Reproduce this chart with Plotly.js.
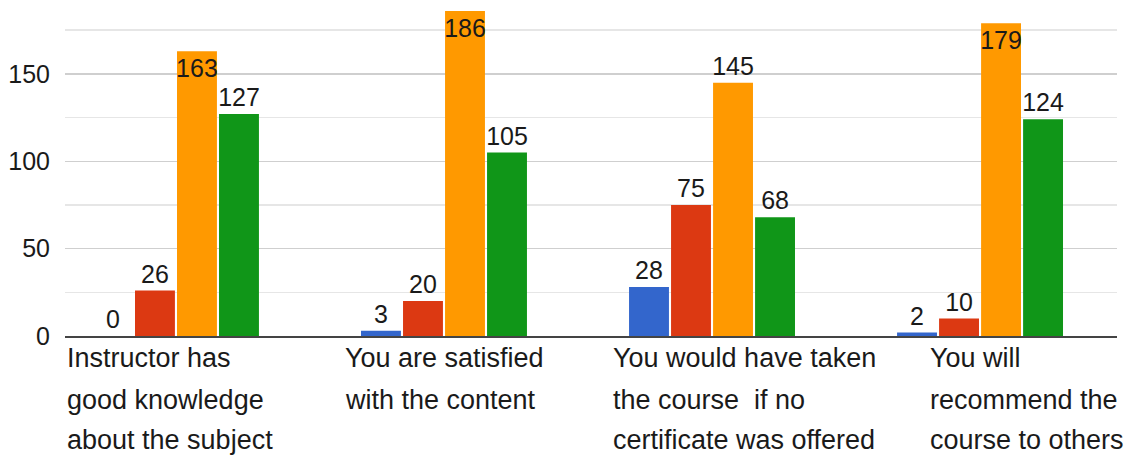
<!DOCTYPE html>
<html>
<head>
<meta charset="utf-8">
<script src="https://cdn.plot.ly/plotly-3.0.1.min.js"></script>
<style>html,body{margin:0;padding:0;background:#fff;}#chart{width:1129px;height:456px;}</style>
</head>
<body>
<div id="chart"></div>
<script>
// ---- data ----
const categories = [
  "Instructor has good knowledge about the subject",
  "You are satisfied with the content",
  "You would have taken the course  if no certificate was offered",
  "You will recommend the course to others"
];
const categoryLines = [
  ["Instructor has", "good knowledge", "about the subject"],
  ["You are satisfied", "with the content"],
  ["You would have taken", "the course  if no", "certificate was offered"],
  ["You will", "recommend the", "course to others"]
];
const seriesNames = ["Blue", "Red", "Orange", "Green"];
const blueValues   = [0, 3, 28, 2];
const redValues    = [26, 20, 75, 10];
const orangeValues = [163, 186, 145, 179];
const greenValues  = [127, 105, 68, 124];
const yTickVals = [0, 50, 100, 150];

// ---- style ----
const colors = ["#3366cc", "#dc3912", "#ff9900", "#109618"];
const allValues = [blueValues, redValues, orangeValues, greenValues];
const labelShift = [-111, -101, -101, -52];
const lineShift = [-22, -64, -104];
const numFont = {family: "Liberation Sans, Arial, sans-serif", size: 25, color: "#1a1a1a"};

const traces = allValues.map((vals, k) => ({
  type: "bar",
  name: seriesNames[k],
  x: categories,
  y: vals,
  marker: {color: colors[k]},
  text: vals.map(v => String(v)),
  textposition: vals.map(v => v > 160 ? "inside" : "outside"),
  textangle: 0,
  insidetextanchor: "end",
  constraintext: "none",
  cliponaxis: false,
  textfont: numFont,
  insidetextfont: numFont,
  outsidetextfont: numFont,
  hoverinfo: "skip"
}));

const annotations = [];
categoryLines.forEach((lines, i) => {
  lines.forEach((line, j) => {
    annotations.push({
      xref: "x", yref: "paper",
      x: categories[i], y: 0,
      xanchor: "left", yanchor: "middle",
      xshift: labelShift[i], yshift: lineShift[j],
      text: line, showarrow: false, align: "left",
      font: {family: "Liberation Sans, Arial, sans-serif", size: 27, color: "#1a1a1a"}
    });
  });
});

const layout = {
  width: 1129, height: 456,
  margin: {l: 65, r: 12, t: 11, b: 120},
  paper_bgcolor: "#fff", plot_bgcolor: "#fff",
  barmode: "group",
  bargap: 0.373,
  bargroupgap: 0.05,
  showlegend: false,
  xaxis: {
    type: "category",
    range: [-0.414, 3.511],
    showticklabels: false,
    showgrid: false,
    showline: true, linecolor: "#444", linewidth: 2,
    ticks: "", zeroline: false, fixedrange: true
  },
  yaxis: {
    range: [0, 186],
    tickvals: yTickVals,
    ticktext: yTickVals.map(String),
    showgrid: true, gridcolor: "#cfcfcf", gridwidth: 1.5,
    minor: {dtick: 25, tick0: 0, showgrid: true, gridcolor: "#e6e6e6", gridwidth: 1.5},
    zeroline: false, showline: false,
    ticks: "", ticklabelstandoff: 14,
    tickfont: numFont,
    fixedrange: true
  },
  annotations: annotations
};

Plotly.newPlot("chart", traces, layout, {displayModeBar: false, staticPlot: true});
</script>
</body>
</html>
